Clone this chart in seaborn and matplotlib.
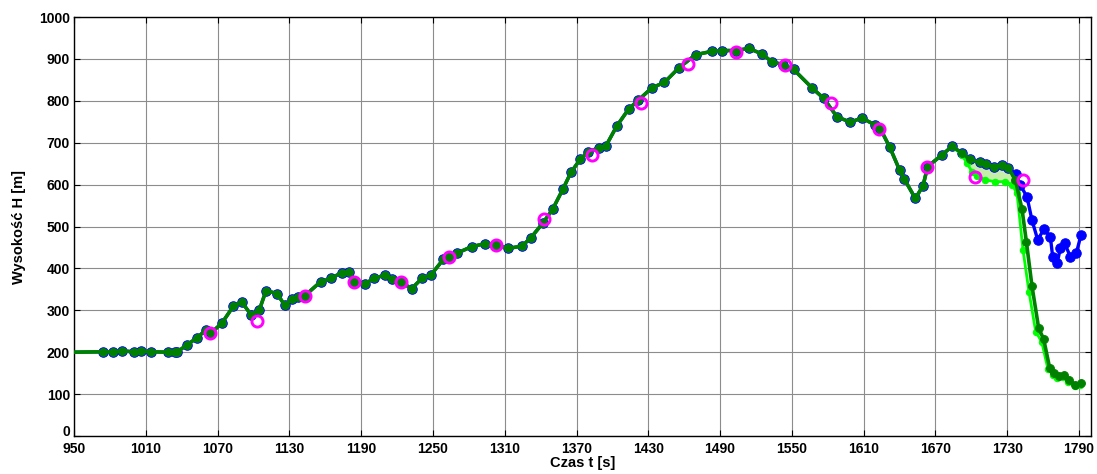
import numpy as np
import matplotlib
matplotlib.use("Agg")
import matplotlib.pyplot as plt
import seaborn as sns

# ---------------- data ----------------
# common part of all tracks (time [s], altitude [m])
t_common = [950, 974.5, 982.9, 989.9, 1000.2, 1006, 1014.1, 1028.3, 1034.4, 1036.4,
            1044.2, 1053.1, 1060.1, 1064.5, 1073.5, 1083.2, 1090.2, 1098, 1104.9,
            1110.5, 1119.5, 1126, 1132, 1137.5, 1143, 1156, 1164.6, 1173.8, 1180,
            1184, 1193.3, 1200.3, 1210, 1215.6, 1223, 1232.3, 1240.7, 1248.2,
            1258.8, 1263, 1270.5, 1282.5, 1293.6, 1303, 1313, 1324.3, 1331.8,
            1341.8, 1350, 1358.6, 1365.3, 1373, 1380, 1388.4, 1394.5, 1403.7,
            1413.5, 1421.8, 1433, 1443.5, 1455.3, 1469.5, 1483, 1492, 1503, 1514,
            1525, 1533.3, 1543, 1551.4, 1566.8, 1576.5, 1587.7, 1598.8, 1608.6,
            1619.7, 1624, 1631.7, 1640, 1644, 1653.2, 1659.6, 1663.5, 1675.5, 1683.8]
h_common = [200, 201, 201, 203, 201, 203, 201, 200, 200, 201,
            217, 235, 253, 246, 269, 310, 320, 289, 301,
            347, 340, 313, 326, 331, 335, 368, 376, 390, 391,
            367, 363, 376, 384, 374, 367, 352, 376, 384,
            422, 428, 437, 452, 459, 456, 448, 453, 473,
            508, 541, 589, 629, 660, 679, 687, 692, 740,
            780, 802, 831, 844, 878, 910, 918, 920, 920, 925,
            912, 893, 886, 875, 831, 806, 762, 749, 759,
            742, 733, 690, 635, 613, 567, 597, 643, 671, 691]

# part shared by the measured (blue) and estimated (dark green) tracks
t_shared = [1692, 1699, 1707, 1712.5, 1719, 1725.5, 1731]
h_shared = [676, 660, 653, 648, 643, 647, 640]

# measured track tail (blue)
t_meas_tail = [1737, 1741, 1746.6, 1750.7, 1755.5, 1760.5, 1766, 1768, 1771.7,
               1774.4, 1778, 1782.8, 1787.8, 1791.7]
h_meas_tail = [625, 599, 570, 515, 468, 493, 476, 428, 412,
               448, 460, 428, 437, 480]

# estimated track tail (dark green)
t_est_tail = [1736.8, 1742.4, 1746, 1750.7, 1756.3, 1760.5, 1765.5, 1769.4, 1773,
              1777.2, 1781.4, 1787, 1791.7]
h_est_tail = [611, 541, 464, 358, 257, 231, 162, 151, 142,
              146, 134, 122, 126]

# alternative estimate tail (light green)
t_alt_tail = [1692, 1696.4, 1700.5, 1705, 1711.7, 1720, 1728.4, 1734, 1738.2,
              1743.2, 1748.2, 1753.8, 1758.8, 1764, 1768, 1772, 1776.8, 1780.8,
              1786.6, 1790.6]
h_alt_tail = [671, 651, 631, 620, 611, 607, 607, 600, 579,
              444, 344, 249, 225, 160, 146, 138, 141, 130, 119, 122]

# GPS fixes (magenta open circles)
t_gps = [1064, 1103, 1143, 1184, 1223, 1263, 1303, 1343, 1383, 1424, 1463,
         1503, 1544, 1583, 1623, 1663, 1703, 1743]
h_gps = [246, 274, 335, 367, 367, 428, 456, 517, 671, 794, 887,
         916, 886, 795, 733, 643, 618, 612]

x_ticks = [950, 1010, 1070, 1130, 1190, 1250, 1310, 1370, 1430, 1490, 1550,
           1610, 1670, 1730, 1790]
y_ticks = [0, 100, 200, 300, 400, 500, 600, 700, 800, 900, 1000]

x_label = "Czas t [s]"
y_label = "Wysokość H [m]"

# ---------------- build series ----------------
t_meas = t_common + t_shared + t_meas_tail
h_meas = h_common + h_shared + h_meas_tail
t_est = t_common + t_shared + t_est_tail
h_est = h_common + h_shared + h_est_tail
t_alt = t_common + t_alt_tail
h_alt = h_common + h_alt_tail

# ---------------- style ----------------
sns.set_style("white")
plt.rcParams["font.family"] = ["Liberation Sans", "DejaVu Sans"]
plt.rcParams["font.weight"] = "bold"
plt.rcParams["text.color"] = "black"
plt.rcParams["axes.labelcolor"] = "black"
plt.rcParams["xtick.color"] = "black"
plt.rcParams["ytick.color"] = "black"

fig = plt.figure(figsize=(10.97, 4.74), dpi=100)
ax = fig.add_axes([0.0675, 0.0802, 0.927, 0.8839])

# shaded band between the estimated and the alternative track
band_t_upper = [t_common[-1]] + t_shared + t_est_tail[:1]
band_h_upper = [h_common[-1]] + h_shared + h_est_tail[:1]
band_t_lower = [t_common[-1]] + t_alt_tail[:9]
band_h_lower = [h_common[-1]] + h_alt_tail[:9]
ax.fill(band_t_upper + band_t_lower[::-1], band_h_upper + band_h_lower[::-1],
        color="#c4eeaa", zorder=1.5, lw=0)

# measured (blue)
sns.lineplot(x=t_meas, y=h_meas, ax=ax, sort=False, estimator=None,
             color="#0000ff", lw=2.4, marker="o", ms=6.8, mec="#0000ff", mfc="#0000ff",
             markevery=list(range(1, len(t_meas))), zorder=2)
# alternative (light green)
sns.lineplot(x=t_alt, y=h_alt, ax=ax, sort=False, estimator=None,
             color="#00ff00", lw=2.0, marker="o", ms=4.6, mec="#00ff00", mfc="#00ff00",
             markevery=list(range(1, len(t_alt))), zorder=3)
# estimated (dark green)
sns.lineplot(x=t_est, y=h_est, ax=ax, sort=False, estimator=None,
             color="#008000", lw=2.6, marker="o", ms=5.6, mec="#008000", mfc="#008000",
             markevery=list(range(1, len(t_est))), zorder=4)
# GPS fixes
sns.lineplot(x=t_gps, y=h_gps, ax=ax, sort=False, estimator=None,
             linestyle="", marker="o", ms=8, mfc="none", mec="#ff00ff", mew=2.1,
             color="#ff00ff", zorder=5)

ax.set_xlim(950, 1800)
ax.set_ylim(0, 1000)
ax.set_xticks(x_ticks)
ax.set_yticks(y_ticks)
ax.set_xticklabels([str(v) for v in x_ticks], fontsize=10, fontweight="bold")
ax.set_yticklabels([str(v) for v in y_ticks], fontsize=10, fontweight="bold")
ax.get_yticklabels()[0].set_va("baseline")
ax.tick_params(direction="in", length=4, width=0.8, top=True, right=True,
               bottom=True, left=True, colors="black")
ax.tick_params(axis="x", pad=4)
ax.tick_params(axis="y", pad=3)
ax.grid(True, color="#8c8c8c", lw=0.8, ls="-")
ax.set_axisbelow(True)
for s in ax.spines.values():
    s.set_visible(True)
    s.set_color("black")
    s.set_linewidth(1.0)

ax.set_xlabel(x_label, fontsize=10.5, fontweight="bold", labelpad=0, color="black")
ax.set_ylabel(y_label, fontsize=10.5, fontweight="bold", labelpad=9, color="black")

fig.savefig("out.png", dpi=100)
